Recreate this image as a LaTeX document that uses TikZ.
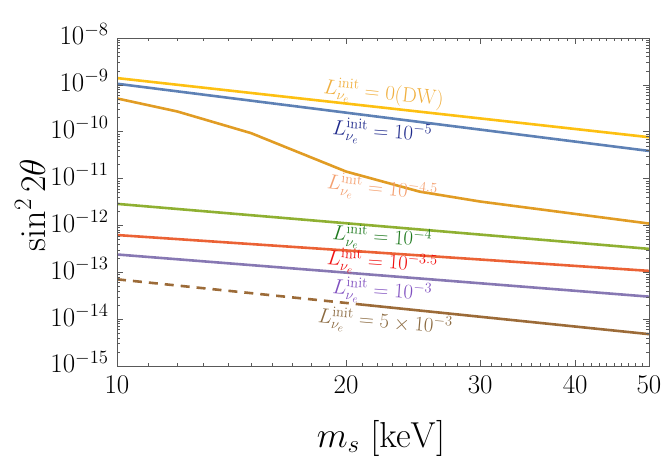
\documentclass[tikz,border=0pt]{standalone}
\begin{document}
\begin{tikzpicture}[x=1pt,y=-1pt,
  declare function={mx(\m)=117+761.1*log10(\m/10); ey(\e)=38-46.857*(8+\e);},
  curve/.style={line width=2.6pt},
  clab/.style={font=\fontsize{21}{21}\selectfont, inner sep=0pt},
  tlab/.style={font=\fontsize{20}{20}\selectfont, inner sep=0pt, scale=1.3}]
\definecolor{cy}{HTML}{FDC012}
\definecolor{cb}{HTML}{5E81B5}
\definecolor{co}{HTML}{E19C24}
\definecolor{cg}{HTML}{8FB032}
\definecolor{cr}{HTML}{EB6235}
\definecolor{cp}{HTML}{8778B3}
\definecolor{cw}{HTML}{9C6B38}
\definecolor{ly}{HTML}{F0B040}
\definecolor{lb}{HTML}{1F2A8C}
\definecolor{lo}{HTML}{F4A070}
\definecolor{lg}{HTML}{1F7A1F}
\definecolor{lr}{HTML}{F01010}
\definecolor{lp}{HTML}{8050C0}
\definecolor{lw}{HTML}{8B6A40}
\useasboundingbox (0,0) rectangle (664,465);
% curves
\begin{scope}
\clip (117,38) rectangle (649,366);
\draw[curve,cy] ({mx(10)},{ey(-8.855)}) -- ({mx(50)},{ey(-10.117)});
\draw[curve,cb] ({mx(10)},{ey(-8.976)}) -- ({mx(50)},{ey(-10.41)});
\draw[curve,co] ({mx(10)},{ey(-9.29)}) -- ({mx(12)},{ey(-9.568)}) -- ({mx(15)},{ey(-10.03)}) -- ({mx(20)},{ey(-10.85)}) -- ({mx(25)},{ey(-11.28)}) -- ({mx(30)},{ey(-11.49)}) -- ({mx(50)},{ey(-11.96)});
\draw[curve,cg] ({mx(10)},{ey(-11.54)}) -- ({mx(50)},{ey(-12.50)});
\draw[curve,cr] ({mx(10)},{ey(-12.205)}) -- ({mx(50)},{ey(-12.97)});
\draw[curve,cp] ({mx(10)},{ey(-12.62)}) -- ({mx(50)},{ey(-13.52)});
\draw[curve,cw,dash pattern=on 9pt off 7pt] ({mx(10)},{ey(-13.15)}) -- ({mx(21)},{ey(-13.69)});
\draw[curve,cw] ({mx(21)},{ey(-13.69)}) -- ({mx(50)},{ey(-14.32)});
\end{scope}
% frame and ticks
\draw[gray!70!black, line width=0.6pt] (117,38) rectangle (649,366);
\foreach \m in {11,...,19,21,22,...,29,31,32,...,39,41,42,...,49} {
  \draw[gray!70!black, line width=0.5pt] ({mx(\m)},366) -- ++(0,-3) ({mx(\m)},38) -- ++(0,3);
}
\foreach \m in {20,30,40} {
  \draw[gray!70!black, line width=0.5pt] ({mx(\m)},366) -- ++(0,-6) ({mx(\m)},38) -- ++(0,6);
}
\foreach \e in {-9,-10,...,-14} {
  \draw[gray!70!black, line width=0.5pt] (117,{ey(\e)}) -- ++(6,0) (649,{ey(\e)}) -- ++(-6,0);
}
\foreach \e in {-8,-9,...,-15} {
  \foreach \k in {2,...,9} {
    \pgfmathsetmacro{\yy}{ey(\e-1+log10(\k))}
    \ifdim \yy pt < 366pt
      \draw[gray!70!black, line width=0.4pt] (117,\yy) -- ++(3,0) (649,\yy) -- ++(-3,0);
    \fi
  }
}
% tick labels
\foreach \e [count=\i] in {-8,-9,...,-15} {
  \node[tlab, anchor=east] (yl\i) at (109,{ey(\e)-4}) {$10^{\e}$};
}
\foreach \m in {10,20,30,40,50} {
  \node[tlab, anchor=north] (xl\m) at ({mx(\m)},376) {$\m$};
}
\node[font=\fontsize{24}{24}\selectfont, scale=1.45, rotate=90] (ylab) at (30,205) {$\sin^2 2\theta$};
\node[font=\fontsize{24}{24}\selectfont, scale=1.45] (xlab) at (381,438) {$m_s\ [\mathrm{keV}]$};
% curve labels
\node[clab, ly, rotate=-6] (la) at ({mx(22.4)},{ey(-9.21)}) {$L^{\rm init}_{\nu_e}=0(\mathrm{DW})$};
\node[clab, lb, rotate=-4] (lb) at ({mx(22.3)},{ey(-10.03)}) {$L^{\rm init}_{\nu_e}=10^{-5}$};
\node[clab, lo, rotate=-6] (lc) at ({mx(22.3)},{ey(-11.24)}) {$L^{\rm init}_{\nu_e}=10^{-4.5}$};
\node[clab, lg, rotate=-4] (ld) at ({mx(22.3)},{ey(-12.28)}) {$L^{\rm init}_{\nu_e}=10^{-4}$};
\node[clab, lr, rotate=-4] (le) at ({mx(22.3)},{ey(-12.81)}) {$L^{\rm init}_{\nu_e}=10^{-3.5}$};
\node[clab, lp, rotate=-4] (lf) at ({mx(22.3)},{ey(-13.42)}) {$L^{\rm init}_{\nu_e}=10^{-3}$};
\node[clab, lw, rotate=-5] (lg) at ({mx(22.5)},{ey(-14.09)}) {$L^{\rm init}_{\nu_e}=5\times10^{-3}$};
\end{tikzpicture}
\end{document}
